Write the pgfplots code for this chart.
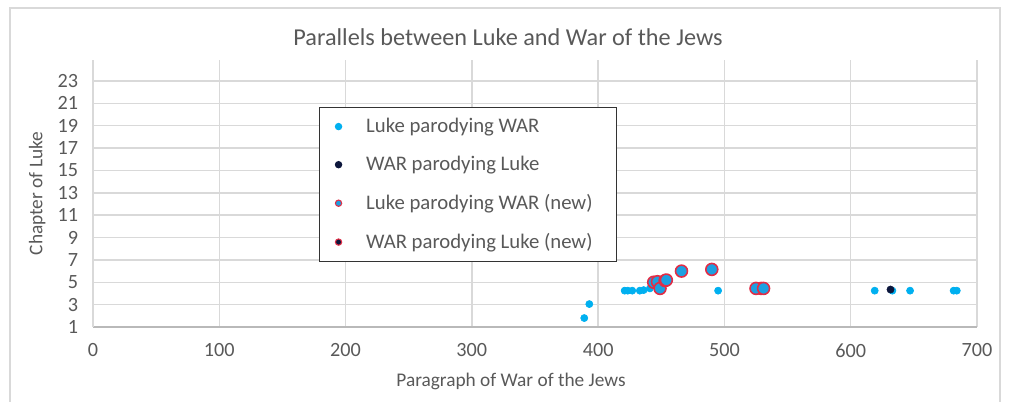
\documentclass[border=0pt]{standalone}
\usepackage{pgfplots}
\pgfplotsset{compat=1.18}
\usepackage{fontspec}
\setmainfont{Carlito}

\definecolor{txt}{RGB}{89,89,89}
\definecolor{gridc}{RGB}{217,217,217}
\definecolor{lblue}{RGB}{0,176,240}
\definecolor{nblue}{RGB}{28,160,225}
\definecolor{navy}{RGB}{12,22,60}
\definecolor{redb}{RGB}{225,45,70}

\begin{document}
\begin{tikzpicture}
\begin{axis}[
    at={(0,0)}, anchor=origin,
    scale only axis,
    width=17.68cm, height=5.34cm,
    xmin=0, xmax=700, ymin=1, ymax=24.88,
    xtick={0,100,...,700},
    ytick={1,3,...,23},
    grid=major,
    major grid style={gridc, line width=0.8pt},
    major tick length=0pt,
    axis lines*=left,
    x axis line style={draw=gray!55, line width=0.8pt},
    y axis line style={draw=gridc, line width=0.8pt},
    tick label style={font=\fontsize{11.5}{13}\selectfont, text=txt},
    xticklabel style={yshift=-6pt},
    yticklabel style={xshift=-5pt},
    /pgf/number format/assume math mode=true,
    xlabel={Paragraph of War of the Jews},
    ylabel={Chapter of Luke},
    label style={font=\fontsize{11}{13}\selectfont, text=txt},
    xlabel style={yshift=-2pt, xshift=-0.48cm},
    ylabel style={yshift=0pt},
    legend style={at={(0.2557,0.824)}, anchor=north west, draw=black!80,
        line width=0.6pt, font=\fontsize{11.8}{13}\selectfont, text=txt,
        row sep=8pt, inner ysep=4pt, inner xsep=9pt},
    legend cell align=left,
    clip=false,
]
% Luke parodying WAR
\addplot[only marks, mark=*, mark size=2pt, color=lblue, forget plot] coordinates {
    (389,1.8) (393,3.05)
    (421,4.25) (423.5,4.25) (427,4.25) (433,4.25) (436,4.3) (441,4.45)
    (495,4.25) (619,4.25) (633,4.25) (647,4.25) (681.5,4.25) (684,4.25)
};
% WAR parodying Luke
\addplot[only marks, mark=*, mark size=2pt, color=navy, forget plot] coordinates {
    (631.5,4.35)
};
% WAR parodying Luke (new)
\addplot[only marks, mark=*, mark size=3.4pt, draw=redb, fill=navy, line width=0.9pt, forget plot] coordinates {
    (529,4.45)
};
% Luke parodying WAR (new)
\addplot[only marks, mark=*, mark size=3.4pt, draw=redb, fill=nblue, line width=0.9pt, forget plot] coordinates {
    (444,5.0) (447,5.05) (449,4.45) (453,5.15) (454,5.2)
    (466,6.0) (490,6.15) (525,4.45) (531,4.45)
};

\addlegendimage{only marks, mark=*, mark size=1.8pt, color=lblue}
\addlegendentry{\hspace*{0.42cm}\makebox[4.62cm][l]{Luke parodying WAR}}
\addlegendimage{only marks, mark=*, mark size=1.8pt, color=navy}
\addlegendentry{\hspace*{0.42cm}\makebox[4.62cm][l]{WAR parodying Luke}}
\addlegendimage{only marks, mark=*, mark size=1.8pt, draw=redb, fill=nblue, line width=0.6pt}
\addlegendentry{\hspace*{0.42cm}\makebox[4.62cm][l]{Luke parodying WAR (new)}}
\addlegendimage{only marks, mark=*, mark size=1.8pt, draw=redb, fill=navy, line width=0.6pt}
\addlegendentry{\hspace*{0.42cm}\makebox[4.62cm][l]{WAR parodying Luke (new)}}
\end{axis}
\node[text=txt, font=\fontsize{13.8}{16}\selectfont] at (8.3cm,5.8cm) {Parallels between Luke and War of the Jews};
\draw[gridc, line width=0.8pt] (-1.66cm,-1.5cm) -- (-1.66cm,6.38cm) -- (18.14cm,6.38cm) -- (18.14cm,-1.5cm);
\useasboundingbox (-1.86cm,-1.46cm) rectangle (18.38cm,6.54cm);
\end{tikzpicture}
\end{document}
